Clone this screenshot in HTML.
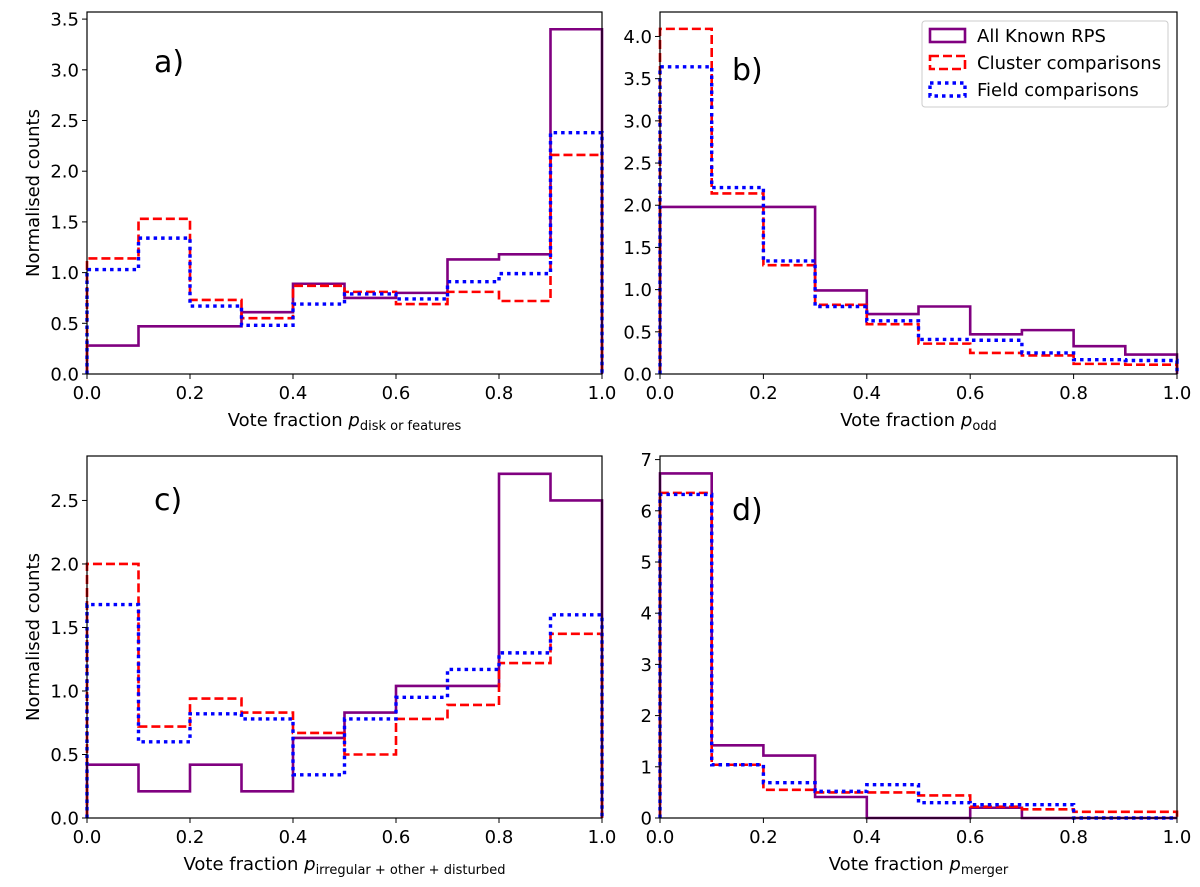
<!DOCTYPE html>
<html><head><meta charset="utf-8"><style>
body{margin:0;background:#fff;}
svg{display:block;font-family:"DejaVu Sans","Liberation Sans",sans-serif;}
</style></head><body>
<svg id="fig" width="1200" height="887"></svg>
<script>
const bins=[0,0.1,0.2,0.3,0.4,0.5,0.6,0.7,0.8,0.9,1.0];
const xTicks=[0,0.2,0.4,0.6,0.8,1.0];
const aPurple=[0.28,0.47,0.47,0.61,0.89,0.75,0.80,1.13,1.18,3.40];
const aRed=[1.14,1.53,0.73,0.55,0.87,0.81,0.69,0.81,0.72,2.16];
const aBlue=[1.03,1.34,0.67,0.48,0.69,0.79,0.74,0.91,0.99,2.38];
const bPurple=[1.98,1.98,1.98,0.99,0.71,0.80,0.47,0.52,0.33,0.23];
const bRed=[4.09,2.14,1.29,0.82,0.59,0.36,0.25,0.22,0.12,0.11];
const bBlue=[3.64,2.21,1.34,0.80,0.63,0.41,0.40,0.25,0.17,0.16];
const cPurple=[0.42,0.21,0.42,0.21,0.63,0.83,1.04,1.04,2.71,2.50];
const cRed=[2.00,0.72,0.94,0.83,0.67,0.50,0.78,0.89,1.22,1.45];
const cBlue=[1.68,0.60,0.82,0.78,0.34,0.78,0.95,1.17,1.30,1.60];
const dPurple=[6.73,1.42,1.22,0.41,0,0,0.20,0,0,0];
const dRed=[6.35,1.04,0.55,0.50,0.50,0.44,0.22,0.17,0.12,0.12];
const dBlue=[6.32,1.04,0.69,0.52,0.65,0.30,0.26,0.26,0,0];
const aTicks=[0,0.5,1.0,1.5,2.0,2.5,3.0,3.5];
const bTicks=[0,0.5,1.0,1.5,2.0,2.5,3.0,3.5,4.0];
const cTicks=[0,0.5,1.0,1.5,2.0,2.5];
const dTicks=[0,1,2,3,4,5,6,7];

const NS="http://www.w3.org/2000/svg";
const fig=document.getElementById('fig');
function mk(tag,attrs,parent){const e=document.createElementNS(NS,tag);for(const k in attrs)e.setAttribute(k,attrs[k]);(parent||fig).appendChild(e);return e;}

const panels=[
 {id:'a',x0:87,x1:602,yT:12,yB:374,ymax:3.57,ticks:aTicks,fmt:1,series:[aPurple,aRed,aBlue],lab:'a)',lx:154,ly:72,sub:'disk or features',ylab:true},
 {id:'b',x0:660,x1:1177,yT:12,yB:374,ymax:4.29,ticks:bTicks,fmt:1,series:[bPurple,bRed,bBlue],lab:'b)',lx:732,ly:80,sub:'odd',ylab:false},
 {id:'c',x0:87,x1:602,yT:456,yB:818,ymax:2.85,ticks:cTicks,fmt:1,series:[cPurple,cRed,cBlue],lab:'c)',lx:154,ly:510,sub:'irregular + other + disturbed',ylab:true},
 {id:'d',x0:660,x1:1177,yT:456,yB:818,ymax:7.07,ticks:dTicks,fmt:0,series:[dPurple,dRed,dBlue],lab:'d)',lx:732,ly:520,sub:'merger',ylab:false}
];
const styles=[
 {c:'#800080',d:'',w:2.6,n:'all-known-rps'},
 {c:'#ff0000',d:'9,4',w:2.6,n:'cluster-comparisons'},
 {c:'#0000ff',d:'3.5,4',w:3.4,n:'field-comparisons'}
];
panels.forEach(p=>{
 const g=mk('g',{});
 
 
 const X=v=>p.x0+(p.x1-p.x0)*v;
 const Y=v=>p.yB-(p.yB-p.yT)*v/p.ymax;
 p.series.forEach((vals,si)=>{
  let d='M'+X(bins[0])+','+Y(0);
  vals.forEach((v,i)=>{d+=' L'+X(bins[i])+','+Y(v)+' L'+X(bins[i+1])+','+Y(v);});
  d+=' L'+X(bins[bins.length-1])+','+Y(0);
  const path=mk('path',{d:d,fill:'none',stroke:styles[si].c,'stroke-width':styles[si].w,'stroke-dasharray':styles[si].d},g);
  
  
 });
 const fr=mk('rect',{x:p.x0,y:p.yT,width:p.x1-p.x0,height:p.yB-p.yT,fill:'none',stroke:'#000','stroke-width':1.2},g);
 
 
 xTicks.forEach(t=>{
  mk('line',{x1:X(t),x2:X(t),y1:p.yB,y2:p.yB+5,stroke:'#000','stroke-width':1},g);
  const tx=mk('text',{x:X(t),y:p.yB+25,'text-anchor':'middle','font-size':18},g);
  tx.textContent=t.toFixed(1);
  
  
 });
 p.ticks.forEach(t=>{
  mk('line',{x1:p.x0-5,x2:p.x0,y1:Y(t),y2:Y(t),stroke:'#000','stroke-width':1},g);
  const tx=mk('text',{x:p.x0-8,y:Y(t)+6.5,'text-anchor':'end','font-size':18},g);
  tx.textContent=t.toFixed(p.fmt);
  
  
 });
 const xl=mk('text',{x:(p.x0+p.x1)/2,y:p.yB+52,'text-anchor':'middle','font-size':18},g);
 xl.innerHTML='Vote fraction <tspan font-style="italic">p</tspan><tspan font-size="13" dy="4">'+p.sub+'</tspan>';
 
 
 if(p.ylab){
  const yl=mk('text',{x:0,y:0,'text-anchor':'middle','font-size':18,transform:'translate(39,'+((p.yT+p.yB)/2)+') rotate(-90)'},g);
  yl.textContent='Normalised counts';
  
  
 }
 const pl=mk('text',{x:p.lx,y:p.ly,'font-size':30},g);
 pl.textContent=p.lab;
 
 
});
// legend
const lg=mk('g',{});


mk('rect',{x:922,y:21,width:246,height:86,rx:3,fill:'#fff',stroke:'#ccc','stroke-width':1},lg);
const legTexts=['All Known RPS','Cluster comparisons','Field comparisons'];
legTexts.forEach((t,i)=>{
 const y=29+i*27;
 const r=mk('rect',{x:930,y:y,width:35,height:13,fill:'none',stroke:styles[i].c,'stroke-width':styles[i].w,'stroke-dasharray':styles[i].d},lg);
 
 
 const tx=mk('text',{x:977,y:y+13,'font-size':18},lg);
 tx.textContent=t;
 
 
});
</script>
</body></html>
